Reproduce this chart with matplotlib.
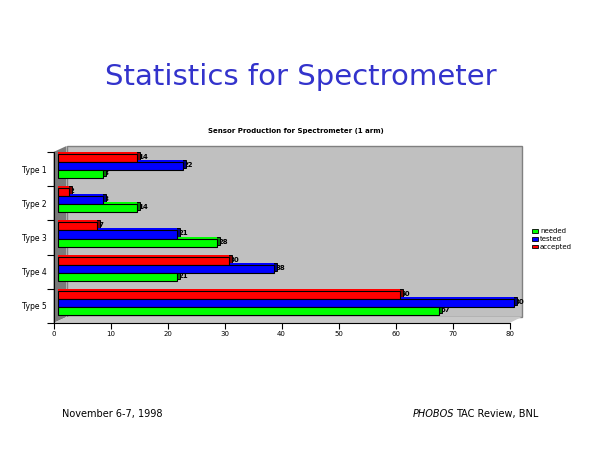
import numpy as np
import matplotlib
matplotlib.use("Agg")
import matplotlib.pyplot as plt
from matplotlib.transforms import offset_copy
from matplotlib.patches import Polygon, Patch

# data
types = ["Type 1", "Type 2", "Type 3", "Type 4", "Type 5"]
accepted = [14, 2, 7, 30, 60]
tested = [22, 8, 21, 38, 80]
needed = [8, 14, 28, 21, 67]
xticks = [0, 10, 20, 30, 40, 50, 60, 70, 80]

red, blue, green = "#ff0000", "#0000ff", "#00ff00"
dred, dblue, dgreen = "#800000", "#000080", "#008000"

W, H = 600, 450
fig = plt.figure(figsize=(6, 4.5), dpi=100)
fig.patch.set_facecolor("white")

# axes placed in pixel units: x 0..80 -> 53.5..509.5, y from 152 (top) to 323 (bottom)
ax = fig.add_axes([53.5 / W, 1 - 323 / H, 456 / W, 171 / H])
ax.set_xlim(0, 80)
ax.set_ylim(4.5, -0.5)
ax.patch.set_visible(False)
for s in ["top", "right"]:
    ax.spines[s].set_visible(False)
ax.spines["left"].set_linewidth(0.8)
ax.spines["bottom"].set_linewidth(0.8)

# 3D walls (depth 13px right, 6px up)
dx = 13 / 5.7
dy = 6 / 34.2
back = Polygon([(dx, -0.5 - dy), (80 + dx * 0.93, -0.5 - dy), (80 + dx * 0.93, 4.5 - dy), (dx, 4.5 - dy)],
               closed=True, facecolor="#c0c0c0", edgecolor="#808080", lw=1, zorder=0)
side = Polygon([(0, -0.5), (dx, -0.5 - dy), (dx, 4.5 - dy), (0, 4.5)],
               closed=True, facecolor="#7a7a7a", edgecolor="none", zorder=0.5)
floor = Polygon([(0, 4.5), (dx, 4.5 - dy), (80 + dx * 0.93, 4.5 - dy), (80, 4.5)],
                closed=True, facecolor="#c8c8c8", edgecolor="none", zorder=0.5)
for p in (back, side, floor):
    p.set_clip_on(False)
    ax.add_patch(p)

y = np.arange(len(types))
h = 0.235
series = [(accepted, -h, red, dred), (tested, 0, blue, dblue), (needed, h, green, dgreen)]

t_front = offset_copy(ax.transData, fig=fig, x=4, y=3, units="dots")
t_top = offset_copy(ax.transData, fig=fig, x=4, y=5, units="dots")
t_cap = offset_copy(ax.transData, fig=fig, x=7, y=5, units="dots")
t_lab = offset_copy(ax.transData, fig=fig, x=5, y=4, units="dots")

for vals, off, c, dc in series:
    ax.barh(y + off, vals, height=h, color=dc, edgecolor="black", lw=0.7,
            transform=t_cap, zorder=2, clip_on=False)
    ax.barh(y + off, vals, height=h, color=c, edgecolor="none",
            transform=t_top, zorder=2.5, clip_on=False)
    ax.barh(y + off, vals, height=h, color=c, edgecolor="black", lw=0.8,
            transform=t_front, zorder=3, clip_on=False)
    for yi, v in zip(y + off, vals):
        ax.text(v, yi, str(v), transform=t_lab, ha="left", va="center",
                fontsize=5, fontweight="bold", color="black", zorder=1.5, clip_on=False)

ax.set_yticks(np.arange(-0.5, 5, 1))
ax.set_yticklabels([])
ax.set_yticks(y, minor=True)
ax.set_yticklabels(types, minor=True, fontsize=5.5)
ax.tick_params(axis="y", which="minor", length=0, pad=5)
ax.tick_params(axis="y", which="major", length=5, width=0.8)
ax.set_xticks(xticks)
ax.set_xticklabels([str(v) for v in xticks], fontsize=5)
ax.tick_params(axis="x", length=4, width=0.8, pad=2)

handles = [Patch(facecolor=green, edgecolor="black", lw=0.6, label="needed"),
           Patch(facecolor=blue, edgecolor="black", lw=0.6, label="tested"),
           Patch(facecolor=red, edgecolor="black", lw=0.6, label="accepted")]
fig.legend(handles=handles, loc="upper left", bbox_to_anchor=(529 / W, 1 - 225 / H),
           frameon=False, fontsize=5, handlelength=0.8, handleheight=0.5,
           handletextpad=0.3, labelspacing=0.25, borderpad=0)

fig.text(301 / W, 1 - 77 / H, "Statistics for Spectrometer", ha="center", va="center",
         fontsize=21, color="#3333cc", family="DejaVu Sans")
fig.text(296 / W, 1 - 131 / H, "Sensor Production for Spectrometer (1 arm)", ha="center",
         va="center", fontsize=5, fontweight="bold")
fig.text(62 / W, 1 - 414 / H, "November 6-7, 1998", ha="left", va="center", fontsize=7)
tac = fig.text(538 / W, 1 - 414 / H, "TAC Review, BNL", ha="right", va="center", fontsize=7)
ax.annotate("PHOBOS", xy=(0, 0.5), xycoords=tac, xytext=(-1, 0), textcoords="offset points",
            ha="right", va="center", fontsize=7, style="italic", annotation_clip=False)

fig.savefig("out.png", dpi=100, facecolor="white")
